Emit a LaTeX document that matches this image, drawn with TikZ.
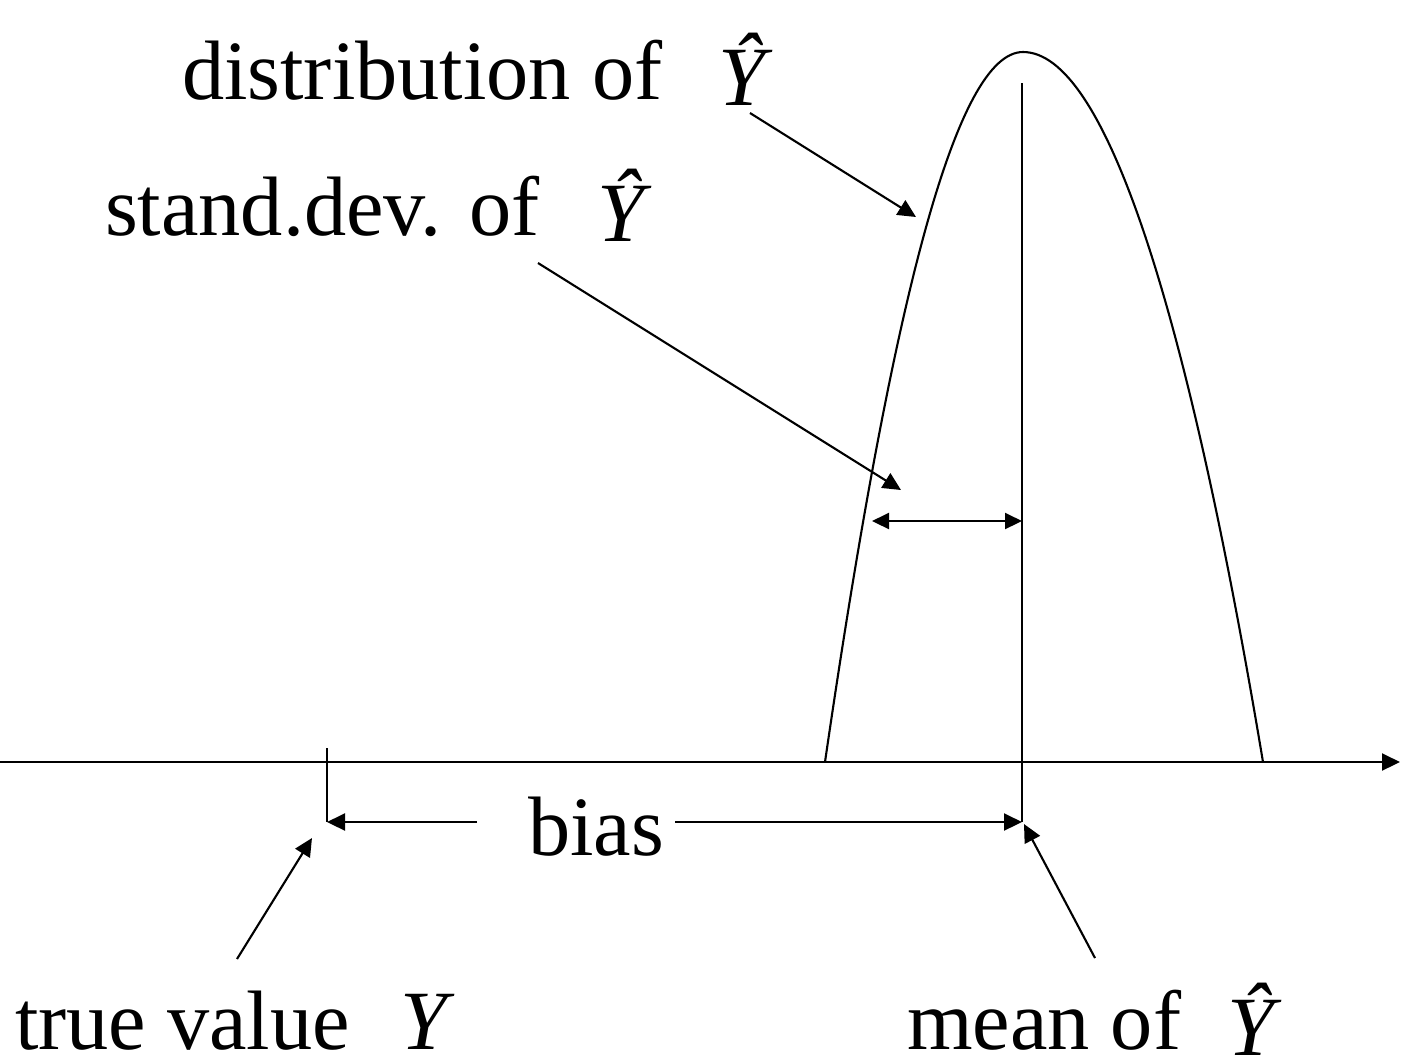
\documentclass[tikz,border=0pt]{standalone}
\usepackage{fontspec}
\setmainfont{Liberation Serif}
\usetikzlibrary{arrows.meta}
\tikzset{
  lbl/.style={inner sep=0pt, anchor=base west, font=\fontsize{24}{28}\selectfont},
  ptr/.style={-{Triangle[length=1.8mm,width=1.7mm]}},
  dbl/.style={{Triangle[length=1.7mm,width=1.6mm]}-{Triangle[length=1.7mm,width=1.6mm]}},
}
\newcommand{\yhat}{\raisebox{-0.6mm}{\itshape\^{Y}}}
\begin{document}
\begin{tikzpicture}[x=1cm,y=1cm,line width=0.6pt]
\useasboundingbox (0,0) rectangle (14.08,-10.61);
% axis
\coordinate (ax0) at (0,-7.62);
\coordinate (ax1) at (14.00,-7.62);
\draw[ptr] (ax0) -- (ax1);
% density of the estimate
\coordinate (foot1) at (8.25,-7.62);
\coordinate (top) at (10.23,-0.52);
\coordinate (foot2) at (12.63,-7.62);
\draw (foot1) .. controls (8.93,-2.95) and (9.57,-0.52) .. (top)
  .. controls (11.03,-0.52) and (11.85,-2.95) .. (foot2);
% mean line and true value tick
\coordinate (meantop) at (10.22,-0.83);
\coordinate (meanbot) at (10.22,-8.22);
\draw (meantop) -- (meanbot);
\coordinate (truetop) at (3.27,-7.48);
\coordinate (truebot) at (3.27,-8.22);
\draw (truetop) -- (truebot);
% labels
\node[lbl] (dist) at (1.81,-0.99) {distribution of\hspace{0.67em}\yhat};
\node[lbl] (sd) at (1.04,-2.35) {stand.dev. of\hspace{0.68em}\yhat};
\node[lbl] (bias) at (5.27,-8.55) {bias};
\node[lbl] (true) at (0.14,-10.49) {true value\hspace{0.6em}{\itshape Y}};
\node[lbl] (mean) at (9.06,-10.49) {mean of\hspace{0.55em}\yhat};
% bias arrows
\coordinate (biasL) at (4.77,-8.22);
\coordinate (biasR) at (6.75,-8.22);
\draw[ptr] (biasL) -- (truebot);
\draw[ptr] (biasR) -- (meanbot);
% spread arrow
\coordinate (sdL) at (8.72,-5.21);
\coordinate (sdR) at (10.22,-5.21);
\draw[dbl] (sdL) -- (sdR);
% pointers
\coordinate (distfrom) at (7.50,-1.13);
\coordinate (distto) at (9.16,-2.17);
\draw[ptr] (distfrom) -- (distto);
\coordinate (sdfrom) at (5.38,-2.63);
\coordinate (sdto) at (9.01,-4.90);
\draw[ptr] (sdfrom) -- (sdto);
\coordinate (truefrom) at (2.37,-9.59);
\coordinate (trueto) at (3.12,-8.38);
\draw[ptr] (truefrom) -- (trueto);
\coordinate (meanfrom) at (10.95,-9.58);
\coordinate (meanto) at (10.24,-8.24);
\draw[ptr] (meanfrom) -- (meanto);
\end{tikzpicture}
\end{document}
